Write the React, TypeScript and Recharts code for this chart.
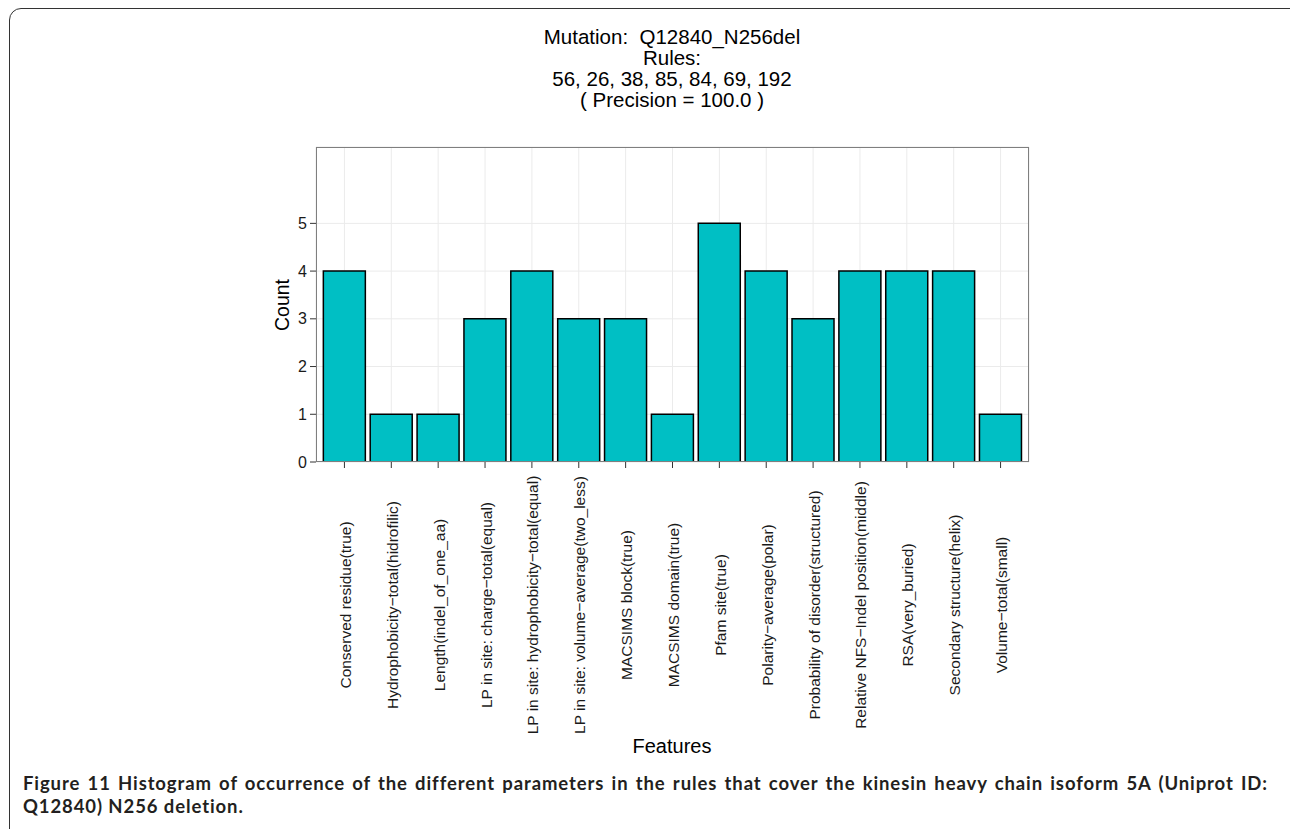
import React from 'react';
import { BarChart, Bar, XAxis, YAxis, CartesianGrid } from 'recharts';

const features = [
  'Conserved residue(true)',
  'Hydrophobicity\u2212total(hidrofilic)',
  'Length(indel_of_one_aa)',
  'LP in site: charge\u2212total(equal)',
  'LP in site: hydrophobicity\u2212total(equal)',
  'LP in site: volume\u2212average(two_less)',
  'MACSIMS block(true)',
  'MACSIMS domain(true)',
  'Pfam site(true)',
  'Polarity\u2212average(polar)',
  'Probability of disorder(structured)',
  'Relative NFS\u2212Indel position(middle)',
  'RSA(very_buried)',
  'Secondary structure(helix)',
  'Volume\u2212total(small)',
];
const counts = [4, 1, 1, 3, 4, 3, 3, 1, 5, 4, 3, 4, 4, 4, 1];
const yTicks = [0, 1, 2, 3, 4, 5];
const titleLines = [
  'Mutation:  Q12840_N256del',
  'Rules:',
  '56, 26, 38, 85, 84, 69, 192',
  '( Precision = 100.0 )',
];
const captionLine1 = 'Figure 11 Histogram of occurrence of the different parameters in the rules that cover the kinesin heavy chain isoform 5A (Uniprot ID:';
const captionLine2 = 'Q12840) N256 deletion.';

const data = features.map((f, i) => ({ feature: f, count: counts[i] }));

const FONT = '"Liberation Sans", Arial, Helvetica, sans-serif';

const XTick = (props: any) => {
  const { x, y, payload } = props;
  return (
    <text
      transform={`translate(${x + 1},${y + 135}) rotate(-90)`}
      textAnchor="middle"
      dominantBaseline="central"
      fontFamily={FONT}
      fontSize={15.5}
      fill="#1a1a1a"
    >
      {payload.value}
    </text>
  );
};

export default function App() {
  return (
    <div
      style={{
        position: 'absolute',
        left: 0,
        top: 0,
        width: 1290,
        height: 829,
        overflow: 'hidden',
        background: '#fff',
        fontFamily: FONT,
      }}
    >
      <div
        style={{
          position: 'absolute',
          left: 9,
          top: 8,
          width: 1320,
          height: 840,
          border: '1.5px solid #333',
          borderRadius: 12,
        }}
      />
      <div style={{ position: 'absolute', left: 422, top: 26, width: 500, textAlign: 'center', fontSize: 20.5, lineHeight: '21px', color: '#000' }}>
        {titleLines.map((t, i) => (
          <div key={i} style={{ whiteSpace: 'pre' }}>{t}</div>
        ))}
      </div>
      <div style={{ position: 'absolute', left: 0, top: 0 }}>
        <BarChart
          width={1290}
          height={829}
          data={data}
          margin={{ top: 147, right: 261, bottom: 0, left: 256 }}
          barCategoryGap="5%"
        >
          <CartesianGrid stroke="#EBEBEB" strokeWidth={1} />
          <XAxis
            dataKey="feature"
            type="category"
            interval={0}
            height={367}
            padding={{ left: 5, right: 5 }}
            axisLine={false}
            tickLine={{ stroke: '#333', strokeWidth: 1 }}
            tickSize={6}
            tick={<XTick />}
          />
          <YAxis
            type="number"
            domain={[0, 6.6]}
            ticks={yTicks}
            width={60}
            axisLine={false}
            tickLine={{ stroke: '#333', strokeWidth: 1 }}
            tickSize={6}
            tickMargin={3}
            tick={{ fontFamily: FONT, fontSize: 16, fill: '#1a1a1a' }}
            allowDataOverflow
          />
          <Bar dataKey="count" fill="#00BFC4" stroke="#000" strokeWidth={1.5} isAnimationActive={false} />
        </BarChart>
      </div>
      <div
        style={{
          position: 'absolute',
          left: 316,
          top: 147,
          width: 713,
          height: 315,
          border: '1px solid #7F7F7F',
          boxSizing: 'border-box',
          pointerEvents: 'none',
        }}
      />
      <div
        style={{
          position: 'absolute',
          left: 282,
          top: 305,
          transform: 'translate(-50%, -50%) rotate(-90deg)',
          fontSize: 19.5,
          color: '#000',
          whiteSpace: 'nowrap',
        }}
      >
        Count
      </div>
      <div
        style={{
          position: 'absolute',
          left: 572,
          top: 735,
          width: 200,
          textAlign: 'center',
          fontSize: 20,
          color: '#000',
        }}
      >
        Features
      </div>
      <div
        style={{
          position: 'absolute',
          left: 23,
          top: 772,
          width: 1245,
          fontFamily: 'Lato, "Open Sans", sans-serif',
          fontWeight: 700,
          fontSize: 18.5,
          letterSpacing: 0.9,
          lineHeight: '22.5px',
          color: '#231f20',
        }}
      >
        <div style={{ textAlign: 'justify', textAlignLast: 'justify', whiteSpace: 'nowrap' as any }}>
          {captionLine1}
        </div>
        <div>{captionLine2}</div>
      </div>
    </div>
  );
}
